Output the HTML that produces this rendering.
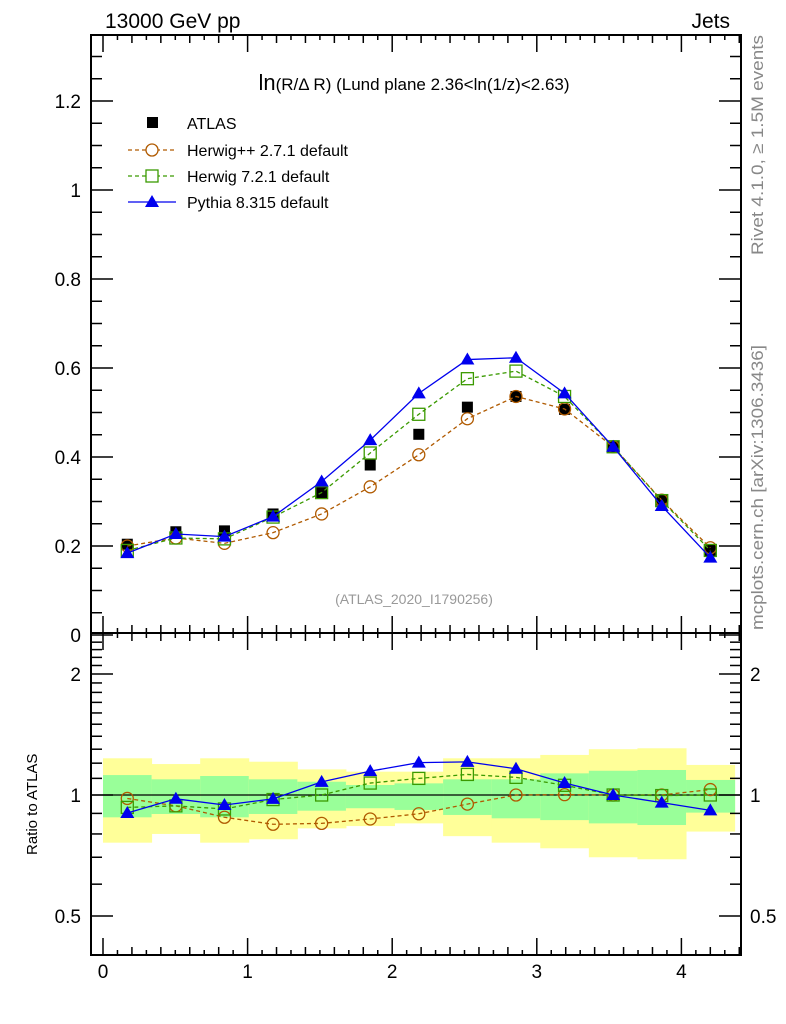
<!DOCTYPE html>
<html><head><meta charset="utf-8"><style>
html,body{margin:0;padding:0;background:#fff;}
svg{display:block;font-family:"Liberation Sans",Arial,sans-serif;}
</style></head><body>
<svg id="chart" width="786" height="1024" xmlns="http://www.w3.org/2000/svg">
<g id="ratioBands"></g>
<g id="mainMarks"></g>
<g id="ratioMarks"></g>
<g id="axes"></g>
<text x="105" y="28" font-size="21">13000 GeV pp</text>
<text x="730" y="28" font-size="21" text-anchor="end">Jets</text>
<text x="414" y="90" font-size="17" text-anchor="middle"><tspan font-size="22">ln</tspan>(R/Δ R) (Lund plane 2.36&lt;ln(1/z)&lt;2.63)</text>
<text x="414" y="604" font-size="14" fill="#999" text-anchor="middle">(ATLAS_2020_I1790256)</text>
<text transform="translate(763,255) rotate(-90)" font-size="17" fill="#888" textLength="220" lengthAdjust="spacingAndGlyphs">Rivet 4.1.0, ≥ 1.5M events</text>
<text transform="translate(763,630) rotate(-90)" font-size="17" fill="#888" textLength="285" lengthAdjust="spacingAndGlyphs">mcplots.cern.ch [arXiv:1306.3436]</text>
<text transform="translate(37,855) rotate(-90)" font-size="15">Ratio to ATLAS</text>
<g>
  <rect x="147" y="117" width="11" height="11" fill="#000"/>
  <text x="187" y="129" font-size="16">ATLAS</text>
  <line x1="128" y1="150" x2="176" y2="150" stroke="#b05a00" stroke-dasharray="4,3" stroke-width="1.3"/>
  <circle cx="152" cy="150" r="6" fill="#fff" stroke="#b05a00" stroke-width="1.3"/>
  <text x="187" y="156" font-size="16">Herwig++ 2.7.1 default</text>
  <line x1="128" y1="176" x2="176" y2="176" stroke="#3a9a00" stroke-dasharray="4,3" stroke-width="1.3"/>
  <rect x="146" y="170" width="12" height="12" fill="#fff" stroke="#3a9a00" stroke-width="1.3"/>
  <text x="187" y="182" font-size="16">Herwig 7.2.1 default</text>
  <line x1="128" y1="202" x2="176" y2="202" stroke="#0000ee" stroke-width="1.3"/>
  <polygon points="152,195 159,207 145,207" fill="#0000ee"/>
  <text x="187" y="208" font-size="16">Pythia 8.315 default</text>
</g>
</svg>
<script>
const xCenters=[0.168,0.504,0.84,1.176,1.512,1.848,2.184,2.52,2.856,3.192,3.528,3.864,4.2];
const binWidth=0.336;
const atlas=[0.204,0.232,0.234,0.272,0.32,0.382,0.451,0.512,0.536,0.507,0.423,0.303,0.19];
const herwigpp=[0.20,0.218,0.206,0.23,0.272,0.333,0.405,0.486,0.536,0.508,0.423,0.303,0.196];
const herwig7=[0.19,0.218,0.216,0.265,0.32,0.409,0.496,0.576,0.593,0.536,0.423,0.302,0.19];
const pythia=[0.184,0.227,0.221,0.266,0.345,0.438,0.543,0.619,0.623,0.543,0.423,0.29,0.174];
const yellowHi=[1.234,1.194,1.234,1.21,1.158,1.143,1.143,1.234,1.234,1.258,1.30,1.307,1.188];
const greenHi=[1.121,1.094,1.115,1.094,1.079,1.059,1.069,1.094,1.094,1.132,1.149,1.154,1.09];
const greenLo=[0.88,0.897,0.88,0.897,0.914,0.927,0.918,0.892,0.875,0.866,0.85,0.842,0.904];
const yellowLo=[0.761,0.80,0.761,0.776,0.826,0.837,0.85,0.79,0.761,0.737,0.70,0.692,0.811];
const xTicks=[0,1,2,3,4];
const yTicks=[0,0.2,0.4,0.6,0.8,1,1.2];
const yTickLabels=["0","0.2","0.4","0.6","0.8","1","1.2"];
const rTicks=[0.5,1,2];
const rTickLabels=["0.5","1","2"];

const NS="http://www.w3.org/2000/svg";
const L=91,R=741,T=35,MB=633,RB=955;
const X=v=>103+v*144.6;
const Y=v=>635-v*445;
const RY=v=>795-Math.log2(v)*121;
function mk(tag,attrs,parent){const e=document.createElementNS(NS,tag);for(const k in attrs)e.setAttribute(k,attrs[k]);parent.appendChild(e);return e;}
const bands=document.getElementById('ratioBands');
const main=document.getElementById('mainMarks');
const rat=document.getElementById('ratioMarks');
const ax=document.getElementById('axes');

xCenters.forEach((c,i)=>{
  const x0=X(c-binWidth/2),w=X(c+binWidth/2)-x0;
  let e=mk('rect',{x:x0,y:RY(yellowHi[i]),width:w+0.5,height:RY(yellowLo[i])-RY(yellowHi[i]),fill:'#ffff99'},bands);
  
  
  e=mk('rect',{x:x0,y:RY(greenHi[i]),width:w+0.5,height:RY(greenLo[i])-RY(greenHi[i]),fill:'#99ff99'},bands);
  
  
});
let ln=mk('line',{x1:L,x2:R,y1:RY(1),y2:RY(1),stroke:'#000','stroke-width':1.3},bands);



function marker(type,x,y,color,parent,name){
  let e;
  if(type==='sq') e=mk('rect',{x:x-5.5,y:y-5.5,width:11,height:11,fill:'#000'},parent);
  else if(type==='circ') e=mk('circle',{cx:x,cy:y,r:6,fill:'none',stroke:color,'stroke-width':1.3},parent);
  else if(type==='osq') e=mk('rect',{x:x-6,y:y-6,width:12,height:12,fill:'none',stroke:color,'stroke-width':1.3},parent);
  else e=mk('polygon',{points:`${x},${y-7} ${x+7},${y+5} ${x-7},${y+5}`,fill:color},parent);
  
  
}
const series=[
  {d:herwigpp,c:'#b05a00',t:'circ',dash:'4,3',n:'herwigpp'},
  {d:herwig7,c:'#3a9a00',t:'osq',dash:'4,3',n:'herwig7'},
  {d:pythia,c:'#0000ee',t:'tri',dash:'',n:'pythia'}
];
atlas.forEach((v,i)=>marker('sq',X(xCenters[i]),Y(v),'#000',main,'atlas-point'));
series.forEach(s=>{
  const pts=s.d.map((v,i)=>`${X(xCenters[i])},${Y(v)}`).join(' ');
  let p=mk('polyline',{points:pts,fill:'none',stroke:s.c,'stroke-width':1.3,'stroke-dasharray':s.dash},main);
  
  
  s.d.forEach((v,i)=>marker(s.t,X(xCenters[i]),Y(v),s.c,main,s.n+'-point'));
  const rp=s.d.map((v,i)=>`${X(xCenters[i])},${RY(v/atlas[i])}`).join(' ');
  p=mk('polyline',{points:rp,fill:'none',stroke:s.c,'stroke-width':1.3,'stroke-dasharray':s.dash},rat);
  
  
  s.d.forEach((v,i)=>marker(s.t,X(xCenters[i]),RY(v/atlas[i]),s.c,rat,s.n+'-ratio-point'));
});

let f=mk('rect',{x:L,y:T,width:R-L,height:RB-T,fill:'none',stroke:'#000','stroke-width':2},ax);


f=mk('line',{x1:L,x2:R,y1:MB,y2:MB,stroke:'#000','stroke-width':2},ax);


for(let k=0;k<=44;k++){
  const v=k/10,x=X(v);if(x>R)break;
  const len=(k%10===0)?17:(k%2===0?8:5);
  [[T,1],[MB,-1],[MB,1],[RB,-1]].forEach(([y0,dir])=>mk('line',{x1:x,x2:x,y1:y0,y2:y0+dir*len,stroke:'#000','stroke-width':1.5},ax));
}
xTicks.forEach(v=>{const t=mk('text',{x:X(v),y:978,'font-size':19,'text-anchor':'middle'},ax);t.textContent=String(v);
  
  });
for(let k=0;k<=27;k++){const v=k*0.05,y=Y(v);if(y<T)break;const len=(k%4===0)?22:11;
  mk('line',{x1:L,x2:L+len,y1:y,y2:y,stroke:'#000','stroke-width':1.5},ax);
  mk('line',{x1:R,x2:R-len,y1:y,y2:y,stroke:'#000','stroke-width':1.5},ax);}
yTicks.forEach((v,i)=>{const t=mk('text',{x:81,y:Y(v)+7,'font-size':19,'text-anchor':'end'},ax);t.textContent=yTickLabels[i];
  
  });
const rMinor=[0.5,0.6,0.7,0.8,0.9,1,1.1,1.2,1.3,1.4,1.5,1.6,1.7,1.8,1.9,2,2.1,2.2,2.3,2.4];
rMinor.forEach(v=>{const y=RY(v);const len=(v===0.5||v===1||v===2)?22:11;
  mk('line',{x1:L,x2:L+len,y1:y,y2:y,stroke:'#000','stroke-width':1.5},ax);
  mk('line',{x1:R,x2:R-len,y1:y,y2:y,stroke:'#000','stroke-width':1.5},ax);});
rTicks.forEach((v,i)=>{
  let t=mk('text',{x:81,y:RY(v)+7,'font-size':19,'text-anchor':'end'},ax);t.textContent=rTickLabels[i];
  
  
  t=mk('text',{x:750,y:RY(v)+7,'font-size':19},ax);t.textContent=rTickLabels[i];
  
  
});
</script>
</body></html>
